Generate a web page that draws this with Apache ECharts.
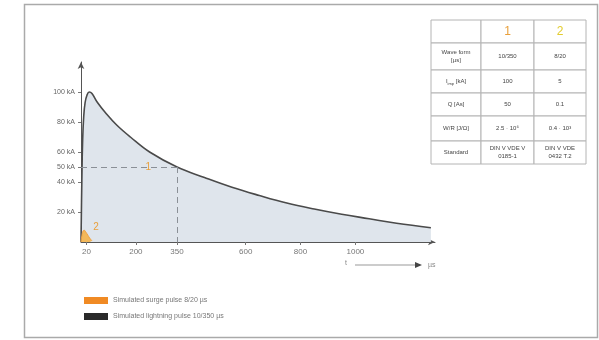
<!DOCTYPE html>
<html>
<head>
<meta charset="utf-8">
<script src="https://cdn.jsdelivr.net/npm/echarts@6/dist/echarts.min.js"></script>
<style>
  html, body { margin: 0; padding: 0; background: #fff; }
  #chart { width: 599px; height: 340px; }
</style>
</head>
<body>
<div id="chart"></div>
<script>
// 10/350 µs lightning pulse [t µs, kA]
const lightningT = [0, 3, 6, 10, 15, 22, 30, 40, 60, 90, 130, 180, 250, 350, 450, 550, 650, 750, 850, 950, 1050, 1150, 1275]
const lightningV = [0, 40, 68, 84, 93, 98, 100, 99, 93, 86, 78, 70, 60, 50, 43, 36.5, 31, 26, 22, 18.5, 15.5, 12.5, 9.5]
// 8/20 µs surge pulse
const surgeT = [0, 4, 8, 12, 18, 25, 32, 40]
const surgeV = [0, 5, 7.5, 7.8, 6.5, 4.5, 2.5, 0.8]

const xTicks = [20, 200, 350, 600, 800, 1000]
const yTicks = [20, 40, 50, 60, 80, 100]

const seriesNames = ['Simulated surge pulse 8/20 µs', 'Simulated lightning pulse 10/350 µs']

// table on the right
const tableHead = ['', '1', '2']
const tableRows = [
  ['Wave form\n[µs]', '10/350', '8/20'],
  ['I{sub|imp} [kA]', '100', '5'],
  ['Q [As]', '50', '0.1'],
  ['W/R [J/Ω]', '2.5 · 10⁶', '0.4 · 10³'],
  ['Standard', 'DIN V VDE V\n0185-1', 'DIN V VDE\n0432 T.2'],
]

const colX = [431, 481, 534, 586]
const rowY = [20, 43, 70, 93, 116, 141, 164]

const font = 'Liberation Sans, Arial, sans-serif'
const lineGrey = '#b4b4b4'

function zip(a, b) {
  return a.map((v, i) => [v, b[i]])
}

// 表格
function buildTable() {
  const items = []
  const allRows = [tableHead].concat(tableRows)
  allRows.forEach((row, r) => {
    row.forEach((txt, c) => {
      const x0 = colX[c], x1 = colX[c + 1]
      const y0 = rowY[r], y1 = rowY[r + 1]
      items.push({
        type: 'rect',
        shape: { x: x0, y: y0, width: x1 - x0, height: y1 - y0 },
        style: { fill: '#fff', stroke: lineGrey, lineWidth: 1 },
      })
      const head = r === 0
      items.push({
        type: 'text',
        x: (x0 + x1) / 2,
        y: (y0 + y1) / 2,
        style: {
          text: txt,
          align: 'center',
          verticalAlign: 'middle',
          fontFamily: font,
          fontSize: head ? 12 : 6,
          lineHeight: head ? 14 : 8,
          fill: head ? (c === 1 ? '#e9a03c' : '#e3cc2e') : '#444',
          rich: { sub: { fontSize: 4, fontFamily: font, fill: '#444', verticalAlign: 'bottom' } },
        },
      })
    })
  })
  return items
}

const chart = echarts.init(document.getElementById('chart'))

chart.setOption({
  animation: false,
  textStyle: { fontFamily: font },
  grid: { left: 81, right: 164, top: 62, bottom: 98 },
  legend: {
    orient: 'vertical',
    left: 79,
    top: 292,
    itemWidth: 24,
    itemHeight: 7,
    itemGap: 9,
    icon: 'rect',
    textStyle: { fontSize: 7, color: '#777', fontFamily: font },
    data: seriesNames,
  },
  xAxis: {
    type: 'value',
    min: 0,
    max: 1290,
    splitLine: { show: false },
    axisLine: { lineStyle: { color: '#555', width: 1 }, symbol: ['none', 'arrow'], symbolSize: [5, 7] },
    axisTick: { customValues: xTicks, length: 3, lineStyle: { color: '#777' } },
    axisLabel: { customValues: xTicks, fontSize: 8, color: '#777', margin: 6, formatter: v => String(v) },
  },
  yAxis: {
    type: 'value',
    min: 0,
    max: 120,
    splitLine: { show: false },
    axisLine: { show: true, lineStyle: { color: '#555', width: 1 }, symbol: ['none', 'arrow'], symbolSize: [5, 7] },
    axisTick: { customValues: yTicks, length: 3, lineStyle: { color: '#777' } },
    axisLabel: { customValues: yTicks, fontSize: 7, color: '#666', margin: 6, formatter: v => v + ' kA' },
  },
  series: [
    {
      name: seriesNames[1],
      type: 'line',
      smooth: 0.4,
      showSymbol: false,
      z: 2,
      data: zip(lightningT, lightningV),
      itemStyle: { color: '#2a2a2a' },
      lineStyle: { color: '#4a4a4a', width: 1.6 },
      areaStyle: { color: '#dfe5ec', opacity: 1 },
      markLine: {
        silent: true,
        symbol: 'none',
        label: { show: false },
        lineStyle: { color: '#8a8f96', type: [6, 4], width: 1 },
        data: [
          [{ coord: [0, 50] }, { coord: [350, 50] }],
          [{ coord: [350, 50] }, { coord: [350, 0] }],
        ],
      },
      markPoint: {
        symbolSize: 0,
        label: { show: true, position: 'inside', formatter: '1', color: '#e9a03c', fontSize: 10 },
        data: [{ coord: [245, 50] }],
      },
    },
    {
      name: seriesNames[0],
      type: 'line',
      smooth: 0.4,
      showSymbol: false,
      z: 3,
      data: zip(surgeT, surgeV),
      itemStyle: { color: '#f08a24' },
      lineStyle: { color: '#f0a040', width: 1 },
      areaStyle: { color: '#f4b24a', opacity: 0.9 },
      markPoint: {
        symbolSize: 0,
        label: { show: true, position: 'inside', formatter: '2', color: '#e9a03c', fontSize: 10 },
        data: [{ coord: [55, 10] }],
      },
    },
  ],
  graphic: [
    {
      type: 'rect',
      silent: true,
      shape: { x: 24.5, y: 4.5, width: 573, height: 333 },
      style: { fill: 'none', stroke: '#aaa', lineWidth: 1.5 },
    },
    // t ───→ µs
    { type: 'text', x: 345, y: 260, style: { text: 't', fontSize: 7, fill: '#888', fontFamily: font } },
    {
      type: 'line',
      shape: { x1: 355, y1: 265, x2: 418, y2: 265 },
      style: { stroke: '#999', lineWidth: 1 },
    },
    {
      type: 'polygon',
      shape: { points: [[422, 265], [415, 262], [415, 268]] },
      style: { fill: '#444' },
    },
    { type: 'text', x: 428, y: 262, style: { text: 'µs', fontSize: 7, fill: '#888', fontFamily: font } },
  ].concat(buildTable()),
})
</script>
</body>
</html>
